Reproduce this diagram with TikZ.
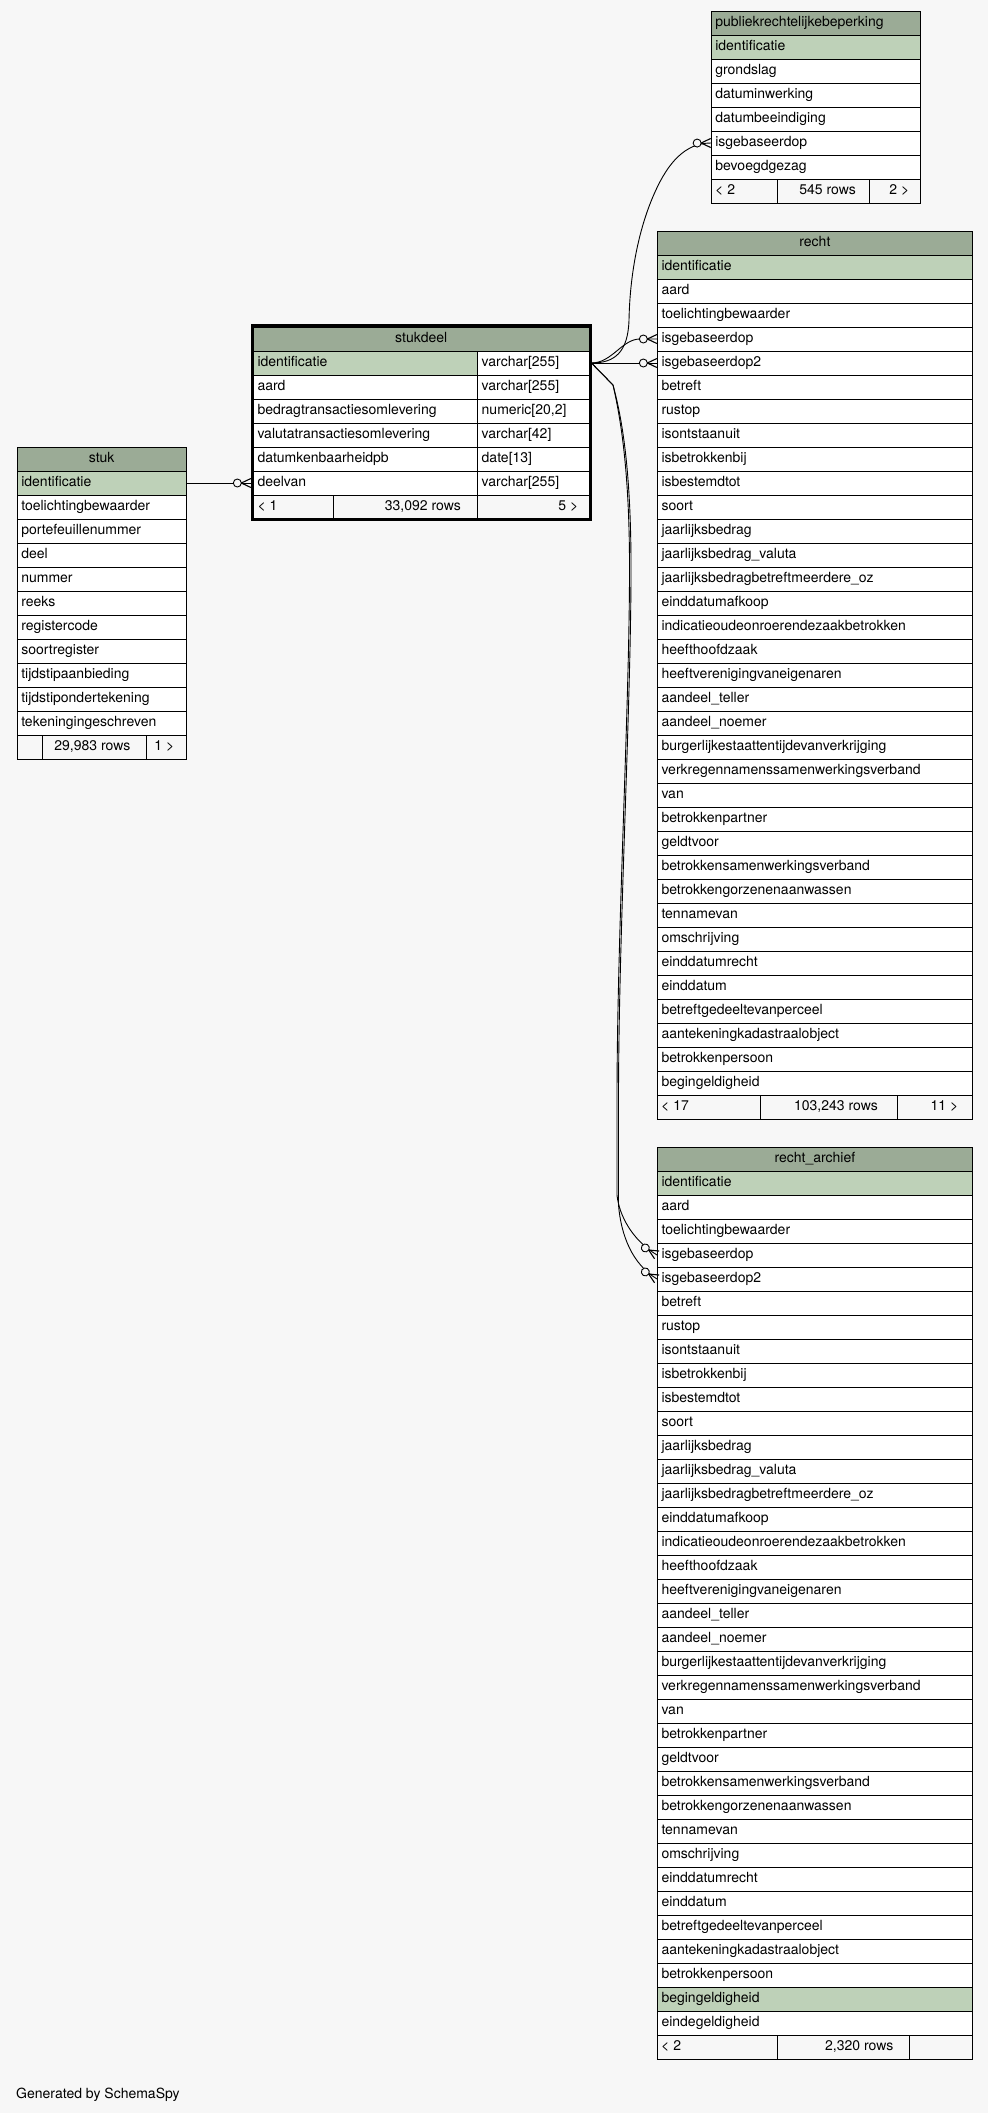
\documentclass[tikz,border=0pt]{standalone}
\usepackage{fontspec}
\setmainfont{TeX Gyre Heros}
\usetikzlibrary{decorations.markings}
\definecolor{bgc}{HTML}{F7F7F7}
\definecolor{hdrc}{HTML}{9BAB96}
\definecolor{pkc}{HTML}{BED1B8}
\newcommand\fs{\fontsize{14}{16}\selectfont}
% #1 prefix, #2 centre x, #3 top y of row 1, #4 text width, #5 start index, #6 list
\newcommand\tblrows[6]{%
  \foreach \f [count=\i from #5] in {#6}{%
    \node[fld, text width=#4pt] (#1-\i) at (#2, {#3+24*(\i-1)+12}) {\f};
  }}
\begin{document}
\begin{tikzpicture}[x=1pt,y=-1pt,
  cell/.style={draw=black, line width=0.9pt, inner xsep=4pt, inner ysep=0pt,
    minimum height=24pt, text height=10pt, text depth=3pt, font=\fs, align=left},
  fld/.style={cell, fill=white},
  pk/.style={cell, fill=pkc},
  hdr/.style={cell, fill=hdrc, align=center},
  ftc/.style={draw=black, line width=0.9pt, fill=bgc, minimum height=24pt, inner sep=0pt},
  ftx/.style={inner sep=0pt, font=\fs},
  conn/.style={draw=black, line width=0.9pt, postaction={decorate},
    decoration={markings, mark=at position -0.2pt with {
      \fill[bgc] (-13.5pt,0pt) circle[radius=4pt];
      \draw[line width=0.9pt] (-13.5pt,0pt) circle[radius=4pt];
      \draw[line width=1.1pt] (-9.5pt,0pt) -- (0pt,4.5pt) (-9.5pt,0pt) -- (0pt,-4.5pt);}}}
]
\fill[bgc] (0,0) rectangle (988,2113);
\useasboundingbox (0,0) rectangle (988,2113);

% ---------- publiekrechtelijkebeperking ----------
\node[hdr, align=left, text width=201pt] (p) at (815.8,23) {publiekrechtelijkebeperking};
\node[pk, text width=201pt] (p-1) at (815.8,47) {identificatie};
\tblrows{p}{815.8}{35}{201}{2}{grondslag, datuminwerking, datumbeeindiging, isgebaseerdop, bevoegdgezag}
\node[ftc, minimum width=66pt] (p-f1) at (744.3,191) {};
\node[ftc, minimum width=92.4pt] (p-f2) at (823.5,191) {};
\node[ftc, minimum width=50.6pt] (p-f3) at (895,191) {};
\node[ftx, anchor=base west] (p-t1) at (715,194.5) {< 2};
\node[ftx, anchor=base east] (p-t2) at (856,194.5) {545 rows};
\node[ftx, anchor=base east] (p-t3) at (909.5,194.5) {2 >};

% ---------- stukdeel ----------
\node[hdr, text width=327.5pt] (sd) at (421.25,339) {stukdeel};
\node[pk, text width=216.2pt] (sd-1) at (365.6,363) {identificatie};
\node[fld, text width=103.3pt] (sd-1t) at (533.35,363) {varchar[255]};
\node[fld, text width=216.2pt] (sd-2) at (365.6,387) {aard};
\node[fld, text width=103.3pt] (sd-2t) at (533.35,387) {varchar[255]};
\node[fld, text width=216.2pt] (sd-3) at (365.6,411) {bedragtransactiesomlevering};
\node[fld, text width=103.3pt] (sd-3t) at (533.35,411) {numeric[20,2]};
\node[fld, text width=216.2pt] (sd-4) at (365.6,435) {valutatransactiesomlevering};
\node[fld, text width=103.3pt] (sd-4t) at (533.35,435) {varchar[42]};
\node[fld, text width=216.2pt] (sd-5) at (365.6,459) {datumkenbaarheidpb};
\node[fld, text width=103.3pt] (sd-5t) at (533.35,459) {date[13]};
\node[fld, text width=216.2pt] (sd-6) at (365.6,483) {deelvan};
\node[fld, text width=103.3pt] (sd-6t) at (533.35,483) {varchar[255]};
\node[ftc, minimum width=79.8pt] (sd-f1) at (293.4,507) {};
\node[ftc, minimum width=144.4pt] (sd-f2) at (405.5,507) {};
\node[ftc, minimum width=111.3pt] (sd-f3) at (533.35,507) {};
\node[ftx, anchor=base west] (sd-t1) at (257.3,510.5) {< 1};
\node[ftx, anchor=base east] (sd-t2) at (461,510.5) {33,092 rows};
\node[ftx, anchor=base east] (sd-t3) at (578.5,510.5) {5 >};
\draw[line width=3pt] (252.5,325.3) rectangle (590.2,519.2);

% ---------- stuk ----------
\node[hdr, text width=160.7pt] (s) at (101.65,459) {stuk};
\node[pk, text width=160.7pt] (s-1) at (101.65,483) {identificatie};
\tblrows{s}{101.65}{471}{160.7}{2}{toelichtingbewaarder, portefeuillenummer, deel, nummer, reeks, registercode, soortregister, tijdstipaanbieding, tijdstipondertekening, tekeningingeschreven}
\node[ftc, minimum width=25.4pt] (s-f1) at (30,747) {};
\node[ftc, minimum width=104pt] (s-f2) at (94.7,747) {};
\node[ftc, minimum width=39.3pt] (s-f3) at (166.35,747) {};
\node[ftx, anchor=base east] (s-t2) at (130.5,750.5) {29,983 rows};
\node[ftx, anchor=base east] (s-t3) at (174.5,750.5) {1 >};

% ---------- recht ----------
\node[hdr, text width=306.8pt] (r) at (814.9,243) {recht};
\node[pk, text width=306.8pt] (r-1) at (814.9,267) {identificatie};
\tblrows{r}{814.9}{255}{306.8}{2}{aard, toelichtingbewaarder, isgebaseerdop, isgebaseerdop2, betreft, rustop, isontstaanuit, isbetrokkenbij, isbestemdtot, soort, jaarlijksbedrag, jaarlijksbedrag\_valuta, jaarlijksbedragbetreftmeerdere\_oz, einddatumafkoop, indicatieoudeonroerendezaakbetrokken, heefthoofdzaak, heeftverenigingvaneigenaren, aandeel\_teller, aandeel\_noemer, burgerlijkestaattentijdevanverkrijging, verkregennamenssamenwerkingsverband, van, betrokkenpartner, geldtvoor, betrokkensamenwerkingsverband, betrokkengorzenenaanwassen, tennamevan, omschrijving, einddatumrecht, einddatum, betreftgedeeltevanperceel, aantekeningkadastraalobject, betrokkenpersoon, begingeldigheid}
\node[ftc, minimum width=102.8pt] (r-f1) at (708.9,1107) {};
\node[ftc, minimum width=137pt] (r-f2) at (828.8,1107) {};
\node[ftc, minimum width=75pt] (r-f3) at (934.8,1107) {};
\node[ftx, anchor=base west] (r-t1) at (661,1110.5) {< 17};
\node[ftx, anchor=base east] (r-t2) at (878,1110.5) {103,243 rows};
\node[ftx, anchor=base east] (r-t3) at (958.5,1110.5) {11 >};

% ---------- recht_archief ----------
\node[hdr, text width=306.8pt] (ra) at (814.9,1159) {recht\_archief};
\node[pk, text width=306.8pt] (ra-1) at (814.9,1183) {identificatie};
\tblrows{ra}{814.9}{1171}{306.8}{2}{aard, toelichtingbewaarder, isgebaseerdop, isgebaseerdop2, betreft, rustop, isontstaanuit, isbetrokkenbij, isbestemdtot, soort, jaarlijksbedrag, jaarlijksbedrag\_valuta, jaarlijksbedragbetreftmeerdere\_oz, einddatumafkoop, indicatieoudeonroerendezaakbetrokken, heefthoofdzaak, heeftverenigingvaneigenaren, aandeel\_teller, aandeel\_noemer, burgerlijkestaattentijdevanverkrijging, verkregennamenssamenwerkingsverband, van, betrokkenpartner, geldtvoor, betrokkensamenwerkingsverband, betrokkengorzenenaanwassen, tennamevan, omschrijving, einddatumrecht, einddatum, betreftgedeeltevanperceel, aantekeningkadastraalobject, betrokkenpersoon}
\node[pk, text width=306.8pt] (ra-35) at (814.9,1999) {begingeldigheid};
\node[fld, text width=306.8pt] (ra-36) at (814.9,2023) {eindegeldigheid};
\node[ftc, minimum width=119.8pt] (ra-f1) at (717.4,2047) {};
\node[ftc, minimum width=132pt] (ra-f2) at (843.3,2047) {};
\node[ftc, minimum width=63pt] (ra-f3) at (940.8,2047) {};
\node[ftx, anchor=base west] (ra-t1) at (661,2050.5) {< 2};
\node[ftx, anchor=base east] (ra-t2) at (893.5,2050.5) {2,320 rows};

% ---------- footer text ----------
\node[ftx, anchor=base west] (gen) at (16,2098) {Generated by SchemaSpy};

% ---------- connectors ----------
\draw[conn] (s-1.east) -- ([xshift=-2pt]sd-6.west);
\draw[conn] ([xshift=2pt]sd-1t.east) .. controls (615,363) and (628,352) .. (629,320)
  .. controls (630,270) and (640,225) .. (655,192)
  .. controls (668,163) and (685,143) .. (p-5.west);
\draw[conn] ([xshift=2pt]sd-1t.east) .. controls (612,363) and (622,339) .. (640,339) -- (r-4.west);
\draw[conn] ([xshift=2pt]sd-1t.east) -- (r-5.west);
\draw[conn] ([xshift=2pt]sd-1t.east) -- (613,385) .. controls (621,420) and (629,470) .. (629.5,560)
  .. controls (630,700) and (617,930) .. (617,1100) -- (617,1195)
  .. controls (619,1215) and (632,1240) .. (ra-4.west);
\draw[conn] ([xshift=2pt]sd-1t.east) -- (613,385) .. controls (622.5,420) and (630.5,470) .. (631,560)
  .. controls (631.5,700) and (618.5,930) .. (618.5,1100) -- (618.5,1205)
  .. controls (621,1235) and (632,1264) .. (ra-5.west);
\end{tikzpicture}
\end{document}
